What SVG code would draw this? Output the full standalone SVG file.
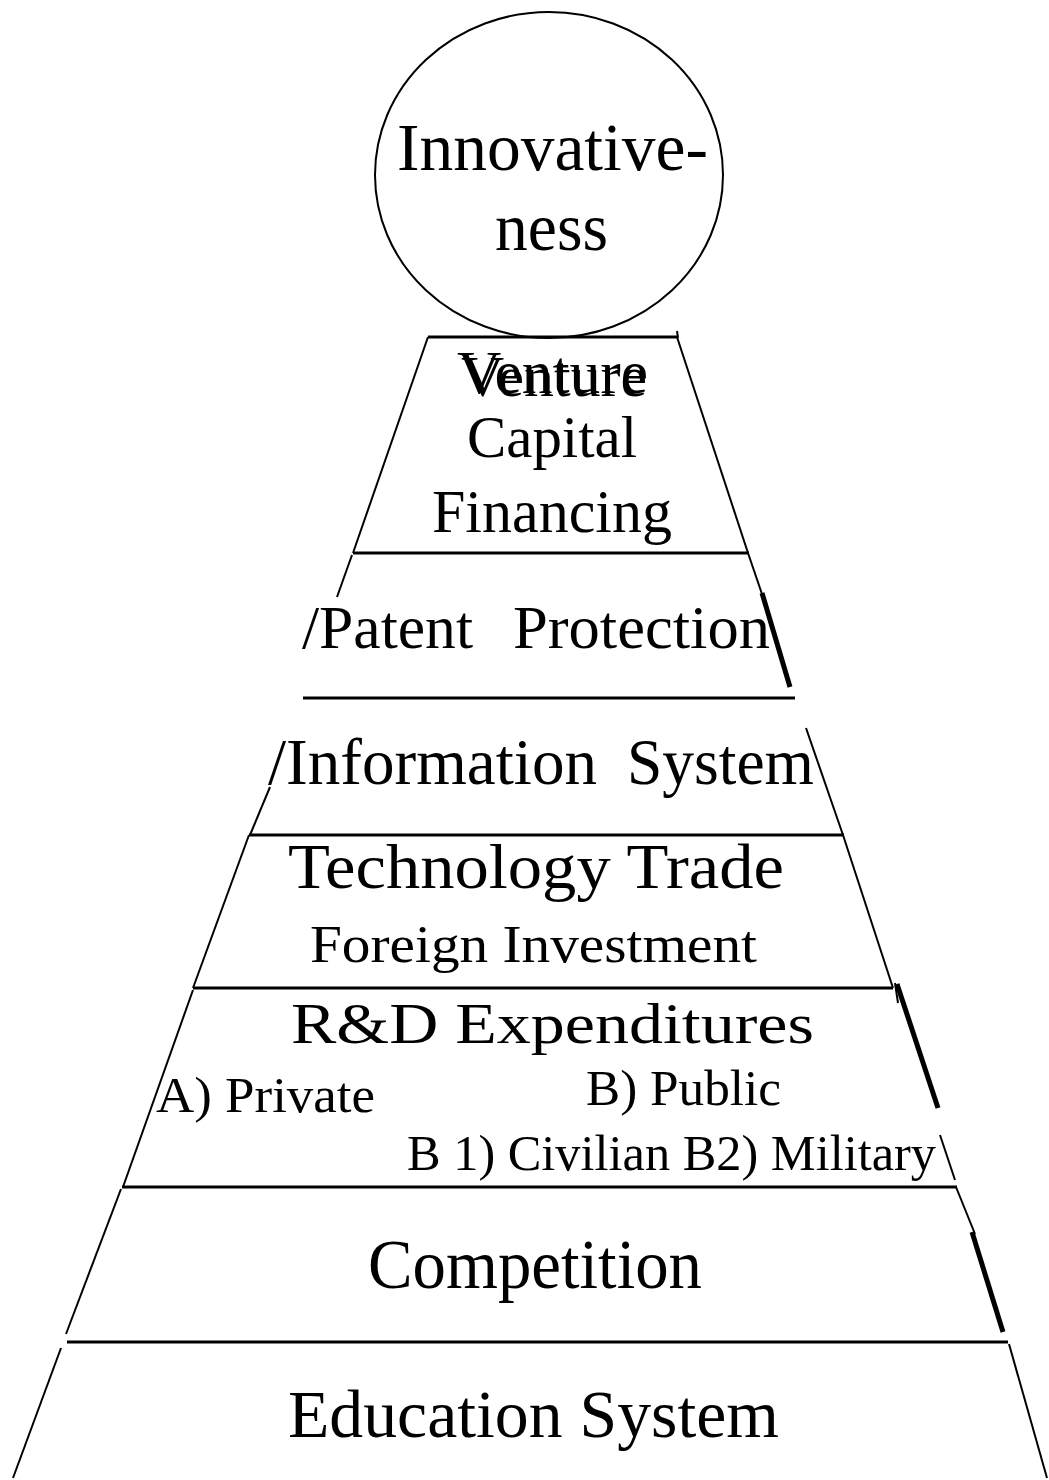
<svg xmlns="http://www.w3.org/2000/svg" width="1049" height="1480" viewBox="0 0 1049 1480">
  <style>
    .edge { stroke: #000; stroke-width: 2; fill: none; stroke-linecap: butt; }
    .bar { stroke: #000; stroke-width: 3; fill: none; }
    .heavy { stroke: #000; stroke-width: 5; fill: none; }
    .t { font-family: "Liberation Serif", "Times New Roman", serif; fill: #000; }
  </style>
  <rect width="1049" height="1480" fill="#fff"/>

  <!-- apex: the goal at the top of the pyramid -->
  <g id="innovativeness">
    <ellipse cx="549" cy="175" rx="174" ry="163" class="edge" stroke-width="2.5"/>
    <text class="t" x="397" y="170" font-size="68" textLength="311" lengthAdjust="spacingAndGlyphs">Innovative-</text>
    <text class="t" x="495" y="250" font-size="68" textLength="113" lengthAdjust="spacingAndGlyphs">ness</text>
  </g>

  <!-- tier 1 -->
  <g id="venture-capital">
    <line class="bar" x1="428" y1="337" x2="678" y2="337"/>
    <line class="edge" x1="677" y1="331" x2="678" y2="338"/>
    <line class="edge" x1="428" y1="337" x2="353" y2="553"/>
    <line class="edge" x1="677" y1="337" x2="748" y2="553"/>
    <text class="t" x="457" y="393" font-size="62" textLength="191" lengthAdjust="spacingAndGlyphs">Venture</text>
    <text class="t" x="461" y="396" font-size="58" textLength="186" lengthAdjust="spacingAndGlyphs" font-family="DejaVu Serif, serif">Venture</text>
    <text class="t" x="467" y="457" font-size="60" textLength="170" lengthAdjust="spacingAndGlyphs">Capital</text>
    <text class="t" x="432" y="532" font-size="62" textLength="240" lengthAdjust="spacingAndGlyphs">Financing</text>
    <line class="bar" x1="353" y1="553" x2="749" y2="553"/>
  </g>

  <!-- tier 2 -->
  <g id="patent-protection">
    <line class="edge" x1="352" y1="555" x2="337" y2="597"/>
    <line class="edge" x1="748" y1="553" x2="763" y2="597"/>
    <line class="heavy" stroke-width="6" x1="762" y1="593" x2="790" y2="687"/>
    <text class="t" x="302" y="648" font-size="62" textLength="171" lengthAdjust="spacingAndGlyphs">/Patent</text>
    <text class="t" x="513" y="648" font-size="62" textLength="257" lengthAdjust="spacingAndGlyphs">Protection</text>
    <line class="bar" x1="303" y1="698" x2="795" y2="698"/>
  </g>

  <!-- tier 3 -->
  <g id="information-system">
    <text class="t" x="268" y="784" font-size="65" textLength="329" lengthAdjust="spacingAndGlyphs">/Information</text>
    <text class="t" x="627" y="784" font-size="65" textLength="187" lengthAdjust="spacingAndGlyphs">System</text>
    <line class="edge" x1="270" y1="787" x2="250" y2="835"/>
    <line class="edge" x1="806" y1="728" x2="843" y2="835"/>
    <line class="bar" x1="249" y1="835" x2="844" y2="835"/>
  </g>

  <!-- tier 4 -->
  <g id="technology-trade">
    <line class="edge" x1="249" y1="835" x2="193" y2="988"/>
    <line class="edge" x1="843" y1="835" x2="893" y2="988"/>
    <text class="t" x="288" y="888" font-size="64" textLength="496" lengthAdjust="spacingAndGlyphs">Technology Trade</text>
    <text class="t" x="310" y="962" font-size="52" textLength="447" lengthAdjust="spacingAndGlyphs">Foreign Investment</text>
    <line class="bar" x1="193" y1="988" x2="893" y2="988"/>
    <line class="edge" x1="895" y1="983" x2="898" y2="1003"/>
  </g>

  <!-- tier 5 -->
  <g id="rd-expenditures">
    <line class="edge" x1="193" y1="990" x2="123" y2="1187"/>
    <line class="heavy" stroke-width="4" x1="897" y1="984" x2="938" y2="1108"/>
    <line class="edge" x1="940" y1="1135" x2="955" y2="1180"/>
    <text class="t" x="291" y="1043" font-size="58" textLength="523" lengthAdjust="spacingAndGlyphs">R&amp;D Expenditures</text>
    <text class="t" x="156" y="1112" font-size="50" textLength="219" lengthAdjust="spacingAndGlyphs">A) Private</text>
    <text class="t" x="586" y="1105" font-size="50" textLength="195" lengthAdjust="spacingAndGlyphs">B) Public</text>
    <text class="t" x="407" y="1170" font-size="50" textLength="529" lengthAdjust="spacingAndGlyphs">B 1) Civilian B2) Military</text>
    <line class="bar" x1="122" y1="1187" x2="957" y2="1187"/>
  </g>

  <!-- tier 6 -->
  <g id="competition">
    <line class="edge" x1="121" y1="1189" x2="66" y2="1334"/>
    <line class="edge" x1="956" y1="1187" x2="975" y2="1234"/>
    <line class="heavy" stroke-width="7" x1="972" y1="1232" x2="1003" y2="1332"/>
    <text class="t" x="368" y="1288" font-size="70" textLength="334" lengthAdjust="spacingAndGlyphs">Competition</text>
    <line class="bar" x1="67" y1="1342" x2="1008" y2="1342"/>
  </g>

  <!-- base tier -->
  <g id="education-system">
    <line class="edge" x1="61" y1="1348" x2="13" y2="1478"/>
    <line class="edge" x1="1009" y1="1344" x2="1047" y2="1478"/>
    <text class="t" x="288" y="1437" font-size="67" textLength="491" lengthAdjust="spacingAndGlyphs">Education System</text>
  </g>
</svg>
